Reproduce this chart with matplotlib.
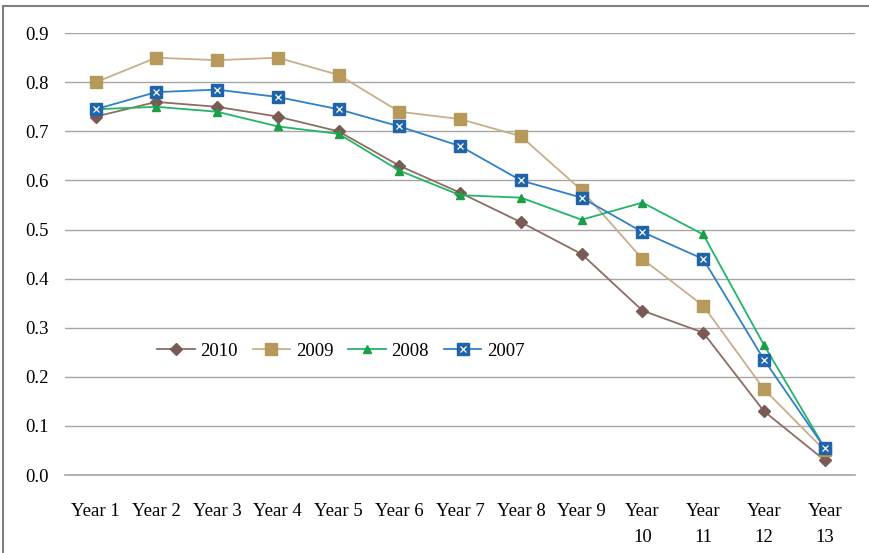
import matplotlib.pyplot as plt
from matplotlib.legend_handler import HandlerTuple
import numpy as np

plt.rcParams['font.family'] = ['Liberation Serif', 'DejaVu Serif']

years = ['Year 1', 'Year 2', 'Year 3', 'Year 4', 'Year 5', 'Year 6', 'Year 7',
         'Year 8', 'Year 9', 'Year\n10', 'Year\n11', 'Year\n12', 'Year\n13']

s2010 = [0.73, 0.76, 0.75, 0.73, 0.70, 0.63, 0.575, 0.515, 0.45, 0.335, 0.29, 0.13, 0.03]
s2009 = [0.80, 0.85, 0.845, 0.85, 0.815, 0.74, 0.725, 0.69, 0.58, 0.44, 0.345, 0.175, 0.05]
s2008 = [0.745, 0.75, 0.74, 0.71, 0.695, 0.62, 0.57, 0.565, 0.52, 0.555, 0.49, 0.265, 0.055]
s2007 = [0.745, 0.78, 0.785, 0.77, 0.745, 0.71, 0.67, 0.60, 0.565, 0.495, 0.44, 0.235, 0.055]

x = np.arange(len(years))

fig = plt.figure(figsize=(8.69, 5.53), dpi=100)
ax = fig.add_axes([0.075, 0.141, 0.909, 0.799])

l1, = ax.plot(x, s2010, '-D', color='#8c6d62', mfc='#7a5a55', mec='#7a5a55',
              ms=6, lw=1.3)
l2, = ax.plot(x, s2009, '-s', color='#c8ae8a', mfc='#b8995c', mec='#b8995c',
              ms=8, lw=1.3)
l3, = ax.plot(x, s2008, '-^', color='#22b566', mfc='#1a9e48', mec='#1a9e48',
              ms=6, lw=1.3)
l4, = ax.plot(x, s2007, '-s', color='#2f80c8', mfc='#1f64a8', mec='#1f64a8',
              ms=9, lw=1.3)
l4x, = ax.plot(x, s2007, 'x', color='white', ms=5, mew=0.9)

ax.set_xlim(-0.5, len(years) - 0.5)
ax.set_ylim(0, 0.9)
ax.set_yticks(np.arange(0, 0.91, 0.1))
ax.set_yticklabels([f'{v:.1f}' for v in np.arange(0, 0.91, 0.1)])
ax.set_xticks(x)
ax.set_xticklabels(years, linespacing=1.7)
ax.tick_params(axis='both', length=0, labelsize=13.5)
ax.tick_params(axis='x', pad=20)
ax.tick_params(axis='y', pad=12)
ax.yaxis.grid(True, color='#a6a6a6', lw=1)
ax.axhline(0, color='#a6a6a6', lw=1.2, clip_on=False, zorder=0)
ax.set_axisbelow(True)
for sp in ax.spines.values():
    sp.set_visible(False)

ax.legend([l1, l2, l3, (l4, l4x)], ['2010', '2009', '2008', '2007'],
          handler_map={tuple: HandlerTuple(ndivide=1, pad=0)},
          loc='center left', bbox_to_anchor=(0.095, 0.28), ncol=4, frameon=False,
          fontsize=13.5, handlelength=2.0, columnspacing=0.8, handletextpad=0.3)

fig.patches.append(plt.Rectangle((0.004, -0.01), 1.2, 1.0, transform=fig.transFigure,
                                 fill=False, ec='#808080', lw=1.5))

fig.savefig('out.png', dpi=100)
